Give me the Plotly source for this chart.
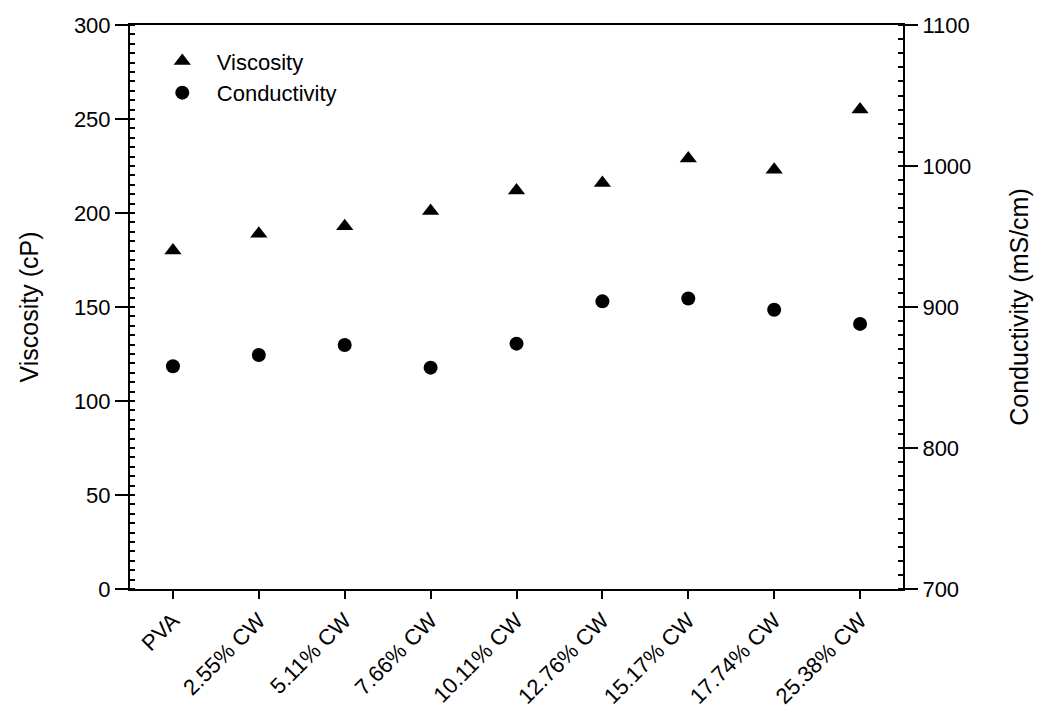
import plotly.graph_objects as go

categories = ["PVA", "2.55% CW", "5.11% CW", "7.66% CW", "10.11% CW",
              "12.76% CW", "15.17% CW", "17.74% CW", "25.38% CW"]
viscosity = [180, 189, 193, 201, 212, 216, 229, 223, 255]
conductivity = [858, 866, 873, 857, 874, 904, 906, 898, 888]

FONT = "Liberation Sans, Arial, sans-serif"

fig = go.Figure()
fig.add_trace(go.Scatter(
    x=categories, y=viscosity, mode="markers", name="Viscosity",
    marker=dict(symbol="triangle-up", size=15, color="black"),
    yaxis="y"))
fig.add_trace(go.Scatter(
    x=categories, y=conductivity, mode="markers", name="Conductivity",
    marker=dict(symbol="circle", size=14, color="black"),
    yaxis="y2"))

axis_common = dict(showline=True, linecolor="black", linewidth=2,
                   showgrid=False, zeroline=False,
                   tickfont=dict(family=FONT, size=22, color="black"))

fig.update_layout(
    width=1040, height=723,
    margin=dict(l=130, r=137, t=25, b=134),
    paper_bgcolor="white", plot_bgcolor="white",
    font=dict(family=FONT, color="black"),
    showlegend=True,
    legend=dict(x=0.023, y=0.973, xanchor="left", yanchor="top",
                bgcolor="rgba(0,0,0,0)",
                font=dict(family=FONT, size=22, color="black"),
                itemwidth=59, tracegroupgap=0),
    xaxis=dict(**axis_common, mirror=True, ticks="outside", ticklen=8,
               tickwidth=2, tickcolor="black", tickangle=-45,
               range=[-0.5, 8.5]),
    yaxis=dict(**axis_common, range=[0, 300], dtick=50, tick0=0,
               ticks="outside", ticklen=13, tickwidth=2, tickcolor="black",
               title=dict(text="Viscosity (cP)",
                          font=dict(family=FONT, size=25, color="black"),
                          standoff=28),
               minor=dict(ticks="inside", dtick=5, ticklen=5,
                          tickwidth=2, tickcolor="black")),
    yaxis2=dict(**axis_common, overlaying="y", side="right",
                range=[700, 1100], dtick=100, tick0=700,
                ticks="outside", ticklen=13, tickwidth=2, tickcolor="black",
                title=dict(text="Conductivity (mS/cm)",
                           font=dict(family=FONT, size=25, color="black"),
                           standoff=40),
                minor=dict(ticks="inside", dtick=10, ticklen=5,
                           tickwidth=2, tickcolor="black")),
)

fig.write_html("out.html")
